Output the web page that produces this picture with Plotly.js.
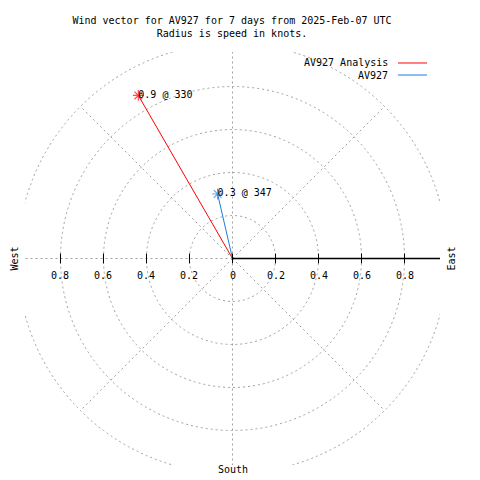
<!DOCTYPE html>
<html>
<head>
<meta charset="utf-8">
<script src="https://cdn.plot.ly/plotly-3.0.1.min.js"></script>
<style>html,body{margin:0;padding:0;background:#fff;}#chart{width:480px;height:480px;}</style>
</head>
<body>
<div id="chart"></div>
<script>
// ---- data ----
var seriesNames = ['AV927 Analysis', 'AV927'];
var seriesColors = ['#ff0000', '#1c7ee0'];
var speeds = [0.876, 0.308];        // knots
var directions = [330, 347];        // degrees, clockwise from north
var tickVals = [-0.8, -0.6, -0.4, -0.2, 0, 0.2, 0.4, 0.6, 0.8];
var tickText = ['0.8', '0.6', '0.4', '0.2', '0', '0.2', '0.4', '0.6', '0.8'];
var ringRadii = [0.2, 0.4, 0.6, 0.8, 1.0];
var spokeAngles = [0, 45, 90, 135, 180, 225, 270, 315];

var FONT = {family: 'DejaVu Sans Mono, Liberation Mono, monospace', size: 10, color: '#000'};
var GRID = {color: '#a0a0a0', width: 1, dash: '2px,3px'};

var traces = [];
for (var i = 0; i < speeds.length; i++) {
  var rad = directions[i] * Math.PI / 180;
  var px = speeds[i] * Math.sin(rad), py = speeds[i] * Math.cos(rad);
  traces.push({
    type: 'scatter', mode: 'lines+markers',
    x: [0, px], y: [0, py],
    line: {color: seriesColors[i], width: 1},
    marker: {symbol: 'asterisk-open', size: [0, 9], color: seriesColors[i], line: {color: seriesColors[i], width: 1.2}},
    cliponaxis: false,
    showlegend: false, hoverinfo: 'skip'
  });
  traces.push({
    type: 'scatter', mode: 'text',
    x: [px], y: [py],
    text: [speeds[i].toFixed(1) + ' @ ' + directions[i]],
    textposition: 'middle right',
    textfont: FONT,
    cliponaxis: false,
    showlegend: false, hoverinfo: 'skip'
  });
}
// tick marks on the horizontal axis
traces.push({
  type: 'scatter', mode: 'markers', x: tickVals, y: tickVals.map(function(){return 0;}),
  marker: {symbol: 'line-ns-open', size: 7, color: '#000', line: {color: '#000', width: 1}},
  showlegend: false, hoverinfo: 'skip', cliponaxis: false
});

var shapes = [];
ringRadii.forEach(function(r){
  shapes.push({type: 'circle', xref: 'x', yref: 'y', x0: -r, x1: r, y0: -r, y1: r, line: GRID, layer: 'below'});
});
var rMax = ringRadii[ringRadii.length - 1];
spokeAngles.forEach(function(a){
  var t = a * Math.PI / 180;
  shapes.push({type: 'line', xref: 'x', yref: 'y', x0: 0, y0: 0, x1: rMax * Math.sin(t), y1: rMax * Math.cos(t), line: GRID, layer: 'below'});
});
// solid east axis line
shapes.push({type: 'line', xref: 'x', yref: 'y', x0: 0, y0: 0, x1: rMax, y1: 0, line: {color: '#000', width: 1.3}});

var annotations = [];
tickVals.forEach(function(v, k){
  annotations.push({x: v, y: 0, xref: 'x', yref: 'y', text: tickText[k], showarrow: false,
    yanchor: 'middle', xanchor: 'center', yshift: -17, font: FONT});
});
annotations.push({x: -0.0265, y: 0.5, xref: 'paper', yref: 'paper', text: 'West', textangle: -90, showarrow: false,
  xanchor: 'center', yanchor: 'middle', font: FONT});
annotations.push({x: 1.0289, y: 0.5, xref: 'paper', yref: 'paper', text: 'East', textangle: -90, showarrow: false,
  xanchor: 'center', yanchor: 'middle', font: FONT});
annotations.push({x: 0.5, y: -0.012, xref: 'paper', yref: 'paper', text: 'South', showarrow: false,
  xanchor: 'center', yanchor: 'middle', font: FONT});

// legend (text right-aligned, sample line to the right)
var legY = [0.9734, 0.9443];
seriesNames.forEach(function(n, k){
  annotations.push({x: 0.8795, y: legY[k], xref: 'paper', yref: 'paper', text: n, showarrow: false,
    xanchor: 'right', yanchor: 'middle', font: FONT});
  shapes.push({type: 'line', xref: 'paper', yref: 'paper', x0: 0.8988, x1: 0.9687, y0: legY[k], y1: legY[k],
    line: {color: seriesColors[k], width: 1}});
});

var layout = {
  width: 480, height: 480,
  margin: {l: 25, r: 40, t: 52, b: 15, pad: 0},
  paper_bgcolor: '#fff', plot_bgcolor: '#fff',
  title: {text: 'Wind vector for AV927 for 7 days from 2025-Feb-07 UTC<br>Radius is speed in knots.',
    font: FONT, x: 0.4833, xref: 'container', xanchor: 'center', y: 0.949, yref: 'container', yanchor: 'top'},
  xaxis: {range: [-0.965, 0.965], showgrid: false, zeroline: false, showticklabels: false, ticks: '', showline: false, fixedrange: true},
  yaxis: {range: [-0.9605, 0.9605], showgrid: false, zeroline: false, showticklabels: false, ticks: '', showline: false, fixedrange: true},
  shapes: shapes,
  annotations: annotations,
  showlegend: false
};
Plotly.newPlot('chart', traces, layout, {displayModeBar: false, staticPlot: true});
</script>
</body>
</html>
